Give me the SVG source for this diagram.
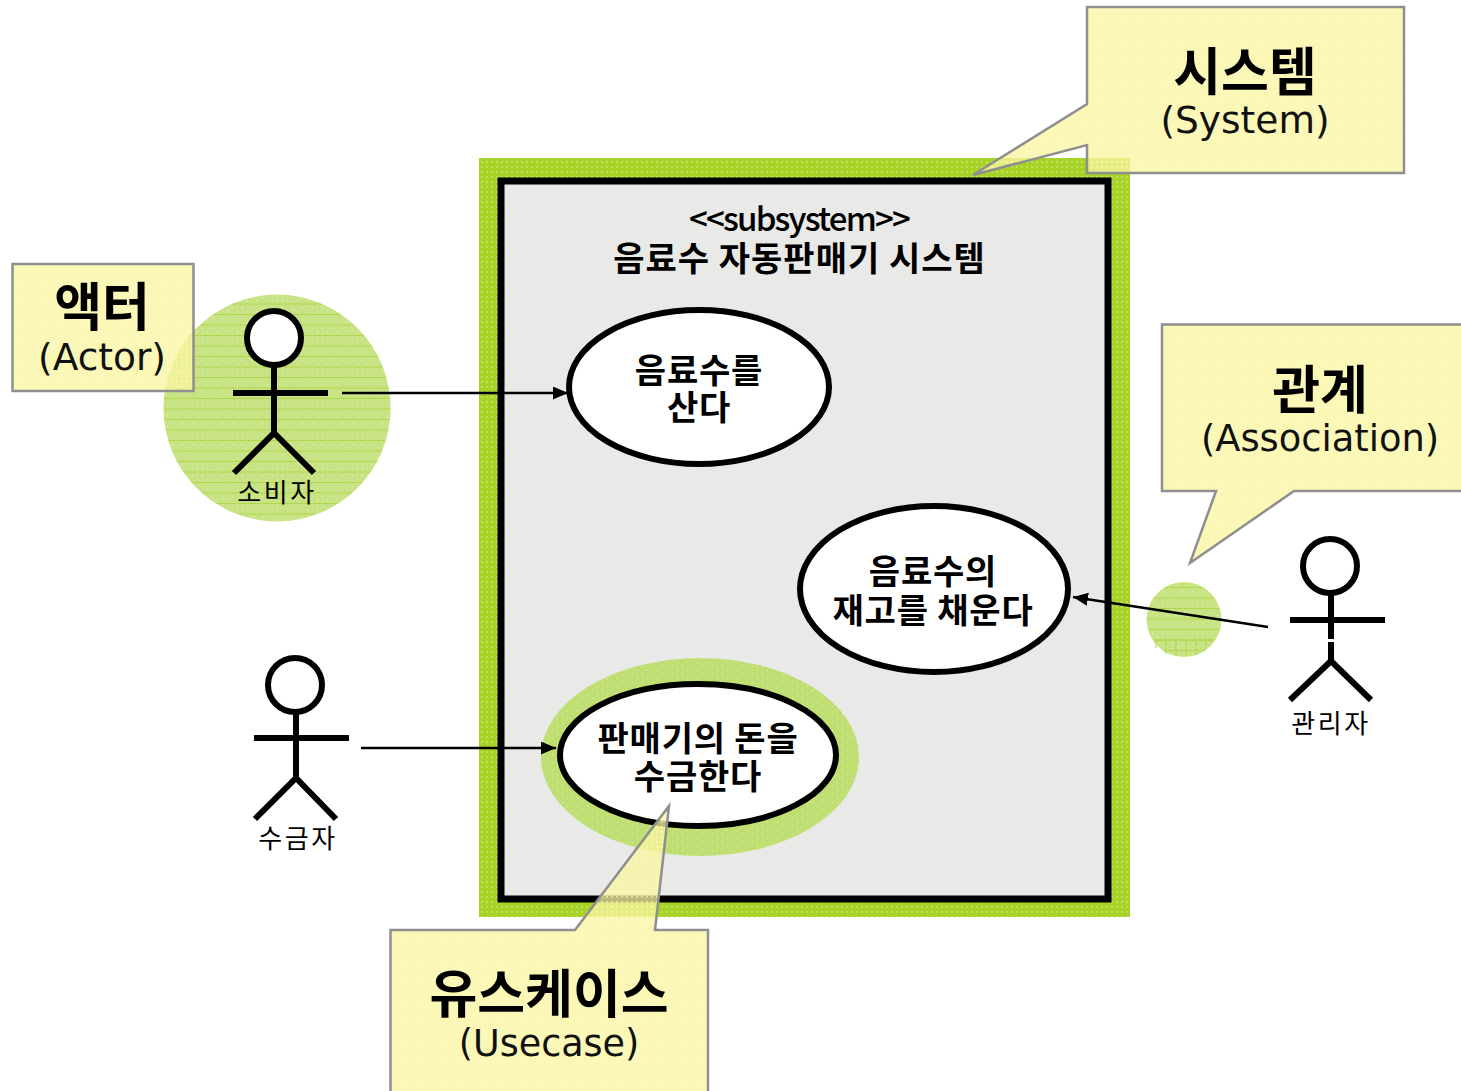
<svg xmlns="http://www.w3.org/2000/svg" width="1461" height="1091" viewBox="0 0 1461 1091">
<defs>
<style>
.kr{font-family:"Noto Sans CJK KR","Noto Sans",sans-serif;fill:#000;text-anchor:middle}
.title{font-size:52px;font-weight:700}
.sub{font-size:37.500px;font-family:"DejaVu Sans","Noto Sans CJK KR",sans-serif;fill:#111;text-anchor:middle}
.uc{font-size:34px;font-weight:700;letter-spacing:.8px}
.sys{letter-spacing:1px}
.stereo{font-size:33px;font-weight:500;letter-spacing:-1.800px}
.name{font-size:26px;letter-spacing:2.500px}
.callout{fill:url(#yellow);stroke:#8f8f8f;stroke-width:2.500}
.usecase{fill:#fff;stroke:#000;stroke-width:6}
.stick{fill:none;stroke:#000;stroke-width:6}
.head{fill:#fff;stroke:#000;stroke-width:6}
.conn{fill:none;stroke:#000;stroke-width:2.400;marker-end:url(#arrow)}
.blob{fill:url(#lined)}
.blob2{fill:url(#dotted)}
.grid{fill:none;stroke:#b1d64c;stroke-width:1}
</style>
<pattern id="frame" width="5" height="5" patternUnits="userSpaceOnUse"><rect width="5" height="5" fill="#a6d326"/><rect x="1" y="1" width="2" height="2" fill="#c0df5e"/></pattern>
<pattern id="lined" width="10" height="10.500" patternUnits="userSpaceOnUse"><rect width="10" height="10.500" fill="#c8e384"/><rect y="9.700" width="10" height=".8" fill="#aed540"/><rect x="2" y="3" width="1" height="1" fill="#eaf5c8"/><rect x="7" y="6" width="1" height="1" fill="#eaf5c8"/></pattern>
<pattern id="dotted" width="10" height="8" patternUnits="userSpaceOnUse"><rect width="10" height="8" fill="#c0df72"/><rect x="2" y="2" width="1" height="1" fill="#e3f1bc"/><rect x="7" y="6" width="1" height="1" fill="#e3f1bc"/></pattern>
<pattern id="yellow" width="5" height="5" patternUnits="userSpaceOnUse"><rect width="5" height="5" fill="#faf6a0" fill-opacity=".76"/><rect x="1" y="1" width="2" height="2" fill="#fffbc0" fill-opacity=".5"/></pattern>
<marker id="arrow" markerUnits="userSpaceOnUse" markerWidth="16" markerHeight="14" refX="15" refY="6.500" orient="auto"><path d="M0 0L15 6.500L0 13Z" fill="#000"/></marker>
</defs>

<g id="system">
<rect x="479" y="158" width="651" height="759" fill="url(#frame)"/>
<rect x="501" y="181" width="607" height="718" fill="#e9e9e7" stroke="#000" stroke-width="7"/>
<text class="kr stereo" x="799" y="231">&lt;&lt;subsystem&gt;&gt;</text>
<text class="kr uc sys" x="799.500" y="271">음료수 자동판매기 시스템</text>
</g>

<g id="highlight-actor"><circle class="blob" cx="277" cy="408" r="113.500"/></g>
<g id="highlight-association"><circle class="blob" cx="1184" cy="619.500" r="37.500"/><path class="grid" d="M1156 640H1212M1156 640V648M1166 640V654M1176 640V656M1186 640V656M1196 640V655M1206 640V650"/></g>
<g id="highlight-usecase"><ellipse class="blob2" cx="700" cy="757" rx="159" ry="99"/></g>

<g id="usecase-buy"><ellipse class="usecase" cx="699" cy="387" rx="130" ry="77"/>
<text class="kr uc" x="699" y="383">음료수를</text><text class="kr uc" x="699" y="420">산다</text></g>
<g id="usecase-refill"><ellipse class="usecase" cx="934" cy="589" rx="134" ry="83"/>
<text class="kr uc" x="933" y="584">음료수의</text><text class="kr uc" x="933" y="623">재고를 채운다</text></g>
<g id="usecase-collect"><ellipse class="usecase" cx="698" cy="755" rx="138" ry="71"/>
<text class="kr uc" x="698" y="751">판매기의 돈을</text><text class="kr uc" x="698" y="789">수금한다</text></g>

<g id="actor-consumer"><circle class="head" cx="274" cy="338" r="27"/>
<path class="stick" d="M274 365V433M233 393H328M234 473L274 433L314 473"/>
<text class="kr name" x="277" y="502">소비자</text></g>
<g id="actor-collector"><circle class="head" cx="295" cy="685" r="27"/>
<path class="stick" d="M296 712V778M254 738H349M255 819L296 778L336 819"/>
<text class="kr name" x="298" y="848">수금자</text></g>
<g id="actor-admin"><circle class="head" cx="1330" cy="566" r="27"/>
<path class="stick" d="M1331 593V639M1331 642V661M1290 620H1385M1290 700L1331 661L1371 700"/>
<text class="kr name" x="1331" y="733">관리자</text></g>

<g id="connectors">
<path class="conn" d="M342 393H568"/>
<path class="conn" d="M361 748H556"/>
<path class="conn" d="M1268 627L1073 597"/>
</g>

<g id="callout-system"><path class="callout" d="M1087 7H1404V173H1087V145L973 175L1087 104Z"/>
<text class="kr title" x="1245" y="91">시스템</text><text class="sub" x="1245" y="133">(System)</text></g>
<g id="callout-actor"><rect class="callout" x="12.500" y="264" width="181" height="127"/>
<text class="kr title" x="102" y="326">액터</text><text class="sub" x="102" y="370">(Actor)</text></g>
<g id="callout-association"><path class="callout" d="M1162 324.500H1463V491H1294L1190 563L1216 491H1162Z"/>
<text class="kr title" x="1320" y="409">관계</text><text class="sub" x="1320" y="451" style="font-size:36.800px">(Association)</text></g>
<g id="callout-usecase"><path class="callout" d="M390.500 930H575L669 806L655 930H708V1093H390.500Z"/>
<text class="kr title" x="549" y="1013">유스케이스</text><text class="sub" x="549" y="1056" style="font-size:36.500px">(Usecase)</text></g>
</svg>
